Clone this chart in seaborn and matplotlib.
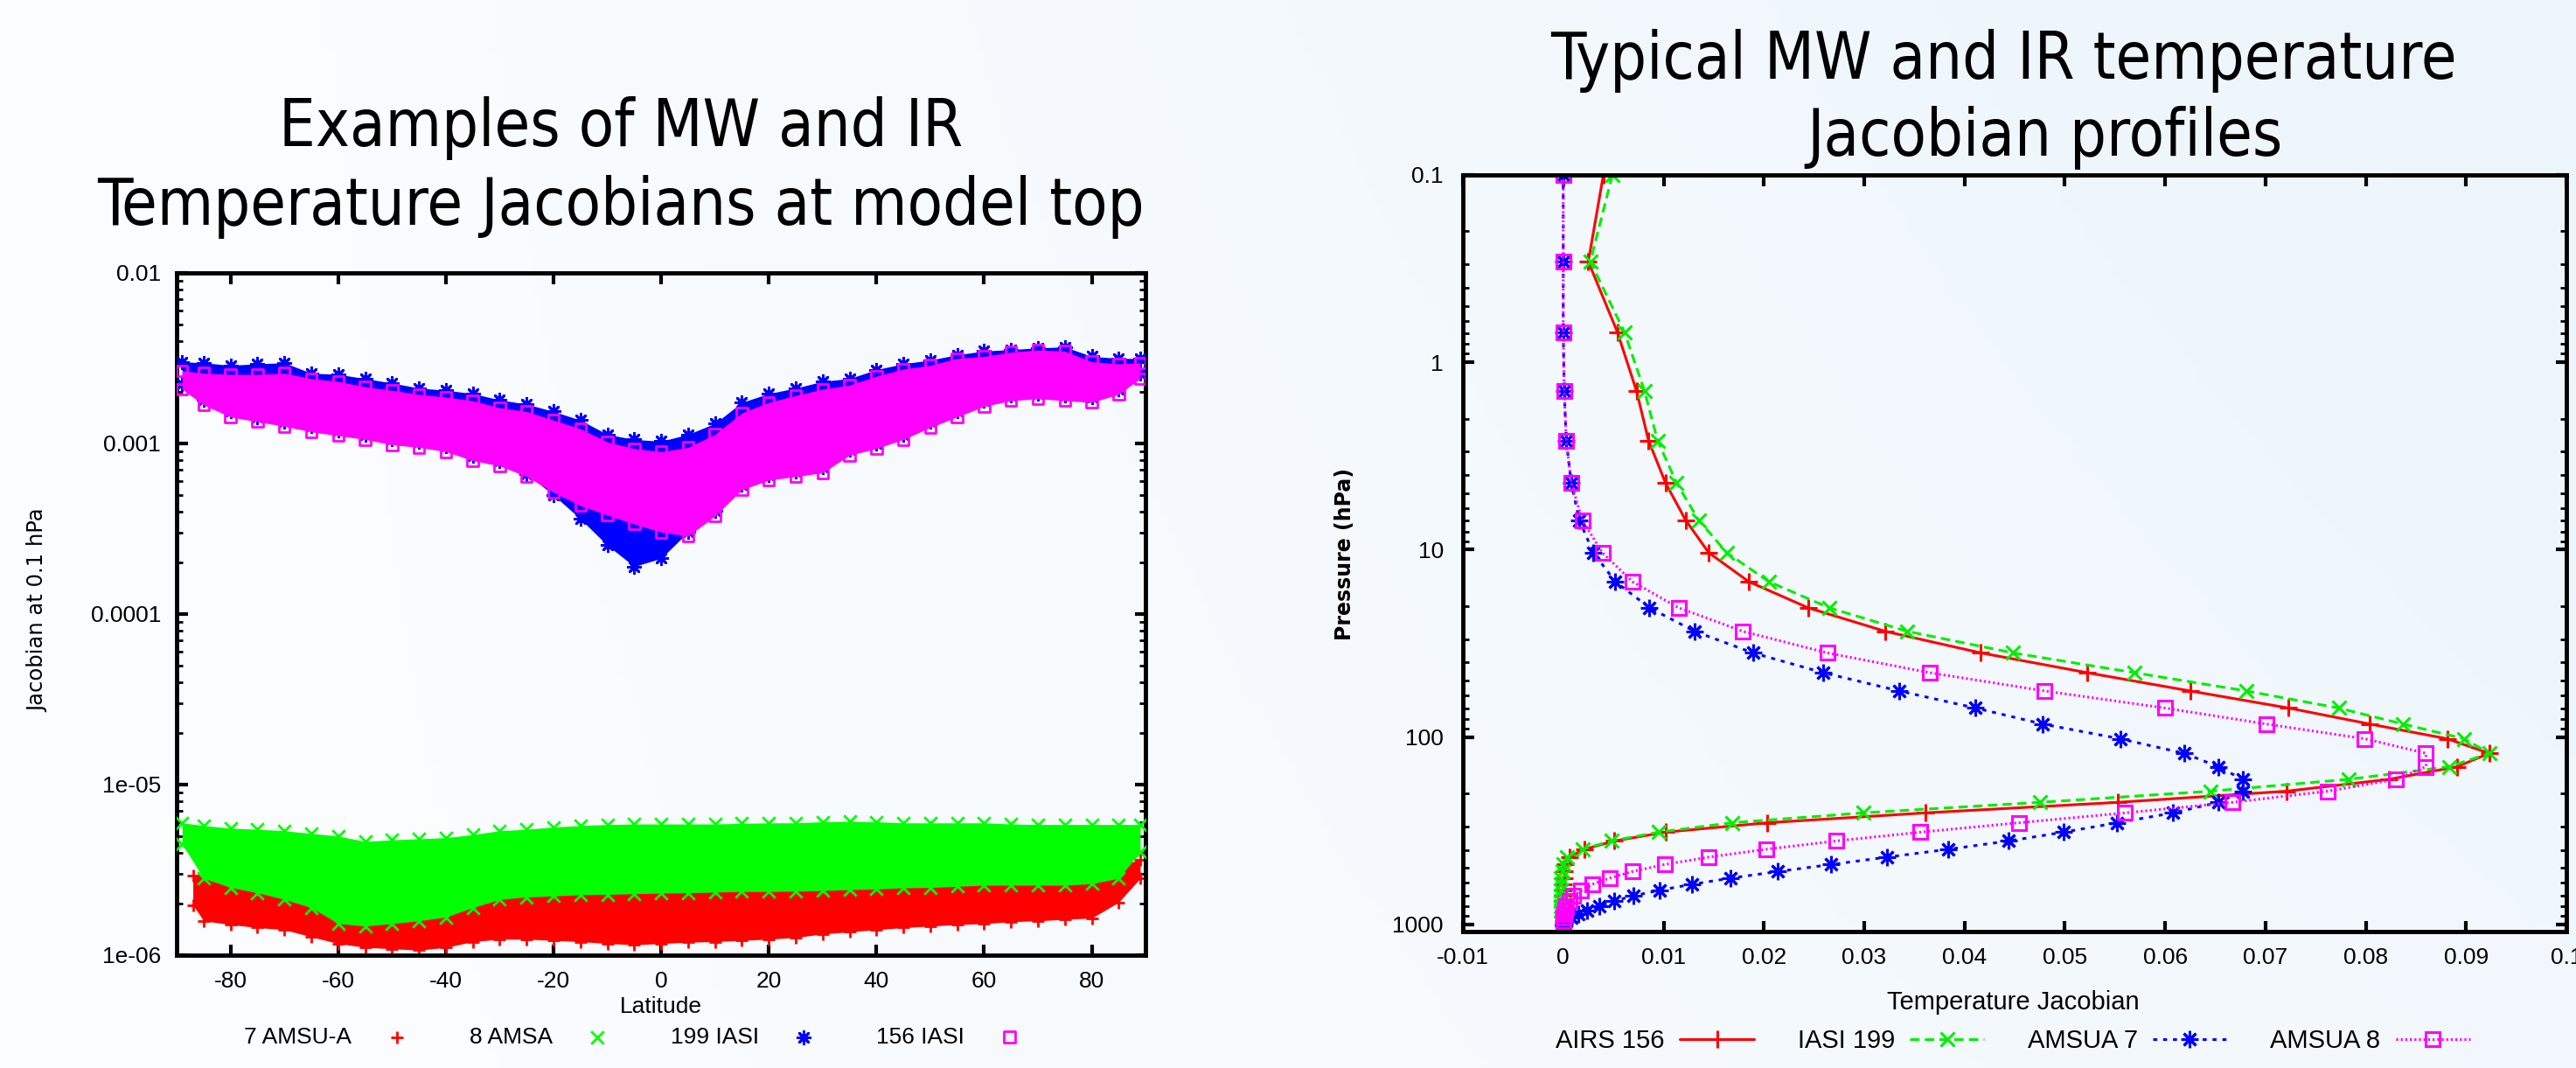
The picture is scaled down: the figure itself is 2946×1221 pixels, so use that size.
import numpy as np
import matplotlib
matplotlib.use('Agg')
import matplotlib.pyplot as plt
from matplotlib import font_manager
import seaborn as sns

sns.set_style('ticks')
plt.rcParams['font.family'] = ['DejaVu Sans']
plt.rcParams.update({'text.color': 'black', 'axes.labelcolor': 'black',
                     'xtick.color': 'black', 'ytick.color': 'black'})

# ---- left panel: Jacobian at 0.1 hPa vs latitude, band envelopes
lat = [-89, -85, -80, -75, -70, -65, -60, -55, -50, -45, -40, -35, -30, -25, -20, -15, -10, -5, 0,
       5, 10, 15, 20, 25, 30, 35, 40, 45, 50, 55, 60, 65, 70, 75, 80, 85, 89]
lat_amsu7 = [-87] + lat[1:]

# AMSU values in 1e-6, IASI values in 1e-3
amsu7_hi = [2.92, 2.96, 2.82, 2.72, 2.53, 2.27, 1.90, 1.77, 1.83, 1.90, 1.97, 2.12, 2.27, 2.36, 2.39, 2.4, 2.4, 2.45, 2.45,
            2.45, 2.5, 2.5, 2.5, 2.5, 2.55, 2.55, 2.6, 2.6, 2.65, 2.65, 2.7, 2.7, 2.7, 2.75, 2.92, 3.37, 3.61]
amsu7_lo = [1.97, 1.59, 1.51, 1.45, 1.41, 1.28, 1.17, 1.11, 1.09, 1.07, 1.11, 1.20, 1.24, 1.24, 1.22, 1.20, 1.17, 1.15, 1.17,
            1.19, 1.20, 1.22, 1.24, 1.27, 1.33, 1.37, 1.41, 1.45, 1.48, 1.51, 1.53, 1.57, 1.59, 1.62, 1.65, 2.04, 2.82]
amsa8_hi = [5.96, 5.75, 5.55, 5.47, 5.36, 5.17, 4.99, 4.64, 4.74, 4.81, 4.88, 5.09, 5.36, 5.47, 5.63, 5.75, 5.83, 5.87, 5.87,
            5.87, 5.87, 5.92, 5.96, 5.96, 6.05, 6.09, 6.05, 5.96, 5.96, 5.96, 5.96, 5.87, 5.83, 5.83, 5.83, 5.83, 5.83]
amsa8_lo = [4.48, 2.82, 2.49, 2.32, 2.12, 1.90, 1.53, 1.48, 1.53, 1.59, 1.67, 1.90, 2.12, 2.19, 2.22, 2.26, 2.27, 2.29, 2.31,
            2.32, 2.34, 2.36, 2.36, 2.37, 2.39, 2.42, 2.44, 2.48, 2.49, 2.53, 2.57, 2.57, 2.57, 2.57, 2.62, 2.82, 4.02]
iasi199_hi = [3.01, 2.97, 2.87, 2.93, 2.97, 2.58, 2.54, 2.40, 2.26, 2.11, 2.05, 1.96, 1.80, 1.70, 1.54, 1.37, 1.13, 1.055, 1.03,
              1.13, 1.31, 1.74, 1.96, 2.11, 2.31, 2.40, 2.71, 2.93, 3.08, 3.31, 3.48, 3.55, 3.63, 3.68, 3.24, 3.15, 3.15]
iasi199_lo = [2.23, 1.80, 1.54, 1.43, 1.35, 1.26, 1.19, 1.13, 1.055, 1.02, 0.961, 0.852, 0.793, 0.663, 0.498, 0.361, 0.253, 0.190, 0.212,
              0.302, 0.402, 0.575, 0.654, 0.688, 0.723, 0.915, 1.00, 1.13, 1.34, 1.54, 1.78, 1.91, 1.96, 1.91, 1.87, 2.08, 2.58]
iasi156_hi = [2.67, 2.58, 2.54, 2.54, 2.58, 2.40, 2.31, 2.15, 2.05, 1.94, 1.87, 1.78, 1.62, 1.54, 1.37, 1.22, 1.02, 0.934, 0.895,
              0.948, 1.13, 1.51, 1.74, 1.91, 2.08, 2.20, 2.48, 2.73, 2.87, 3.15, 3.24, 3.43, 3.53, 3.48, 3.01, 2.93, 2.97]
iasi156_lo = [2.08, 1.68, 1.43, 1.34, 1.26, 1.17, 1.11, 1.055, 0.982, 0.948, 0.895, 0.793, 0.738, 0.640, 0.517, 0.432, 0.380, 0.337, 0.302,
              0.286, 0.375, 0.535, 0.609, 0.640, 0.673, 0.852, 0.934, 1.055, 1.24, 1.43, 1.65, 1.78, 1.83, 1.78, 1.74, 1.94, 2.40]

lat_ticks = [-80, -60, -40, -20, 0, 20, 40, 60, 80]
jac_ticks = [1e-2, 1e-3, 1e-4, 1e-5, 1e-6]
jac_labels = ['0.01', '0.001', '0.0001', '1e-05', '1e-06']

# ---- right panel: Jacobian profiles on the 43 pressure levels
plev = [0.10, 0.29, 0.69, 1.42, 2.611, 4.407, 6.95, 10.37, 14.81, 20.40, 27.26, 35.51, 45.29, 56.73, 69.97,
        85.18, 102.05, 122.04, 143.84, 167.95, 194.36, 222.94, 253.71, 286.60, 321.50, 358.28, 396.81, 436.95,
        478.54, 521.46, 565.54, 610.60, 656.43, 702.73, 749.12, 795.09, 839.95, 882.80, 922.46, 957.44, 985.88,
        1005.43, 1013.25]
airs156 = [0.0040, 0.0025, 0.0054, 0.0073, 0.0085, 0.0102, 0.0122, 0.0145, 0.0185, 0.0244, 0.0321, 0.0416, 0.0522,
           0.0625, 0.0723, 0.0804, 0.0881, 0.0923, 0.0891, 0.0823, 0.0721, 0.0553, 0.0361, 0.0203, 0.0102, 0.0051,
           0.0021, 0.0006, 0.0002, 0.0001, 0.0001, 0.0, 0.0, 0.0, 0.0, 0.0, 0.0, 0.0, 0.0, 0.0, 0.0, 0.0, 0.0]
iasi199 = [0.0049, 0.0027, 0.0061, 0.0081, 0.0094, 0.0113, 0.0135, 0.0163, 0.0205, 0.0265, 0.0343, 0.0448, 0.0569,
           0.0681, 0.0773, 0.0837, 0.0898, 0.0923, 0.0883, 0.0783, 0.0645, 0.0475, 0.0299, 0.0168, 0.0095, 0.0048,
           0.0019, 0.0004, 0.0, -0.0001, -0.0002, -0.0002, -0.0002, -0.0002, -0.0002, -0.0002, -0.0002, -0.0001,
           -0.0001, -0.0001, 0.0, 0.0, 0.0]
amsua7 = [0.0, 0.0, 0.0, 0.0001, 0.0003, 0.0008, 0.0016, 0.0030, 0.0052, 0.0086, 0.0131, 0.0189, 0.0259, 0.0335,
          0.0411, 0.0478, 0.0555, 0.0619, 0.0653, 0.0677, 0.0677, 0.0653, 0.0608, 0.0552, 0.0499, 0.0444, 0.0384,
          0.0323, 0.0267, 0.0214, 0.0167, 0.0128, 0.0096, 0.0070, 0.0051, 0.0036, 0.0024, 0.0015, 0.0008, 0.0003,
          0.0001, 0.0, 0.0]
amsua8 = [0.0, 0.0, 0.0, 0.0001, 0.0003, 0.0008, 0.0019, 0.0039, 0.0069, 0.0115, 0.0179, 0.0263, 0.0365, 0.0480,
          0.0600, 0.0701, 0.0799, 0.0860, 0.0860, 0.0830, 0.0762, 0.0667, 0.0560, 0.0454, 0.0356, 0.0272, 0.0202,
          0.0145, 0.0101, 0.0069, 0.0046, 0.0029, 0.0018, 0.0010, 0.0006, 0.0003, 0.0002, 0.0001, 0.0, 0.0, 0.0,
          0.0, 0.0]

x2_ticks = [-0.01, 0, 0.01, 0.02, 0.03, 0.04, 0.05, 0.06, 0.07, 0.08, 0.09, 0.1]
x2_labels = ['-0.01', '0', '0.01', '0.02', '0.03', '0.04', '0.05', '0.06', '0.07', '0.08', '0.09', '0.1']
p_ticks = [0.1, 1, 10, 100, 1000]
p_labels = ['0.1', '1', '10', '100', '1000']

ASTER = (8, 2, 0)   # gnuplot style asterisk (plus + cross)
TICKFONT = 'Liberation Sans'

# slide titles are a condensed sans; use DejaVu Sans Condensed when it is installed
has_cond = any(f.name == 'DejaVu Sans' and f.stretch == 'condensed'
               for f in font_manager.fontManager.ttflist)
title_kw = dict(fontsize=53, fontstretch='condensed') if has_cond else dict(fontsize=47.5)

fig = plt.figure(figsize=(29.46, 12.21), dpi=100)

# faint slide background gradient
bg = fig.add_axes([0, 0, 1, 1], zorder=-5)
gx = np.linspace(0, 1, 300)[None, :]
gy = np.linspace(0, 1, 120)[:, None]
w = 0.65 * gx + 0.35 * gx * (1 - gy)
c0 = np.array([252, 253, 255]) / 255
c1 = np.array([236, 245, 251]) / 255
bg.imshow(c0 + (c1 - c0) * w[..., None], aspect='auto', extent=[0, 1, 0, 1])
bg.axis('off')


def style_axes(ax):
    ax.set_facecolor('none')
    for sp in ax.spines.values():
        sp.set_linewidth(3.5)
        sp.set_color('black')
    ax.tick_params(which='major', direction='in', length=9, width=3, top=True, right=True,
                   labelsize=19, pad=13, colors='black')
    ax.tick_params(which='minor', direction='in', length=5, width=2, top=True, right=True)
    for lab in ax.get_xticklabels() + ax.get_yticklabels():
        lab.set_fontfamily(TICKFONT)


# ---------------- left panel
ax1 = fig.add_axes([0.0686, 0.1057, 0.3761, 0.6388])
left_series = [
    ('7 AMSU-A', lat_amsu7, amsu7_lo, amsu7_hi, 1e-6, '#ff0000', '+'),
    ('8 AMSA', lat, amsa8_lo, amsa8_hi, 1e-6, '#00ff00', 'x'),
    ('199 IASI', lat, iasi199_lo, iasi199_hi, 1e-3, '#0000ff', ASTER),
    ('156 IASI', lat, iasi156_lo, iasi156_hi, 1e-3, '#ff00ff', 's'),
]
for z, (name, la, lo, hi, unit, col, mk) in enumerate(left_series):
    lo_v = np.array(lo) * unit
    hi_v = np.array(hi) * unit
    ax1.fill_between(la, lo_v, hi_v, color=col, lw=0, zorder=2 + z)
    kw = dict(ax=ax1, marker=mk, color=col, s=110, linewidth=2.0, zorder=2.5 + z)
    if mk == 's':
        kw.update(facecolor='none', edgecolor=col, s=80)
    sns.scatterplot(x=la, y=hi_v, label=name, **kw)
    sns.scatterplot(x=la, y=lo_v, **kw)

ax1.set_yscale('log')
ax1.set_xlim(-90, 90)
ax1.set_ylim(1e-6, 1e-2)
ax1.set_xticks(lat_ticks)
ax1.set_xticklabels([str(v) for v in lat_ticks])
ax1.set_yticks(jac_ticks)
ax1.set_yticklabels(jac_labels)
style_axes(ax1)
ax1.set_xlabel('Latitude', fontsize=19, family=TICKFONT)
ax1.xaxis.set_label_coords(0.5, -0.06)
ax1.set_ylabel('Jacobian at 0.1 hPa', fontsize=17.5)
ax1.yaxis.set_label_coords(-0.1327, 0.506)
ax1.legend(loc='center', bbox_to_anchor=(0.2485, 0.029), bbox_transform=fig.transFigure,
           ncol=4, markerfirst=False, frameon=False, prop={'family': TICKFONT, 'size': 19},
           handlelength=2.3, handletextpad=0.8, columnspacing=2.0, scatterpoints=1)

# ---------------- right panel
ax2 = fig.add_axes([0.5679, 0.1278, 0.4284, 0.7084])
right_series = [
    ('AIRS 156', airs156, '#ff0000', '+', '-', 15),
    ('IASI 199', iasi199, '#00ee00', 'x', (0, (3.5, 2)), 12),
    ('AMSUA 7', amsua7, '#0000ff', ASTER, (0, (1.5, 2.2)), 14),
    ('AMSUA 8', amsua8, '#ff00ff', 's', (0, (0.7, 1.0)), 11),
]
for name, vals, col, mk, ls, ms in right_series:
    sns.lineplot(x=vals, y=plev, ax=ax2, sort=False, estimator=None, color=col, lw=2.2,
                 marker=mk, markersize=ms, markeredgewidth=2.2, markeredgecolor=col,
                 markerfacecolor='none', label=name)
    ax2.lines[-1].set_linestyle(ls)

ax2.set_yscale('log')
ax2.set_xlim(-0.01, 0.1)
ax2.set_ylim(1090, 0.1)
ax2.set_xticks(x2_ticks)
ax2.set_xticklabels(x2_labels)
ax2.set_yticks(p_ticks)
ax2.set_yticklabels(p_labels)
style_axes(ax2)
ax2.tick_params(axis='y', pad=16)
ax2.set_xlabel('Temperature Jacobian', fontsize=21, family=TICKFONT)
ax2.xaxis.set_label_coords(0.499, -0.077)
ax2.set_ylabel('Pressure (hPa)', fontsize=17, fontweight='bold')
ax2.yaxis.set_label_coords(-0.0975, 0.499)
ax2.legend(loc='center', bbox_to_anchor=(0.7814, 0.0254), bbox_transform=fig.transFigure,
           ncol=4, markerfirst=False, frameon=False, prop={'family': TICKFONT, 'size': 21},
           handlelength=2.9, handletextpad=0.6, columnspacing=1.7, numpoints=1)

# ---------------- titles
fig.text(0.241, 0.8632, 'Examples of MW and IR', ha='center', va='baseline', **title_kw)
fig.text(0.241, 0.7895, 'Temperature Jacobians at model top', ha='center', va='baseline', **title_kw)
fig.text(0.7777, 0.9263, 'Typical MW and IR temperature', ha='center', va='baseline', **title_kw)
fig.text(0.7937, 0.8542, 'Jacobian profiles', ha='center', va='baseline', **title_kw)

fig.savefig('out.png', dpi=100)
